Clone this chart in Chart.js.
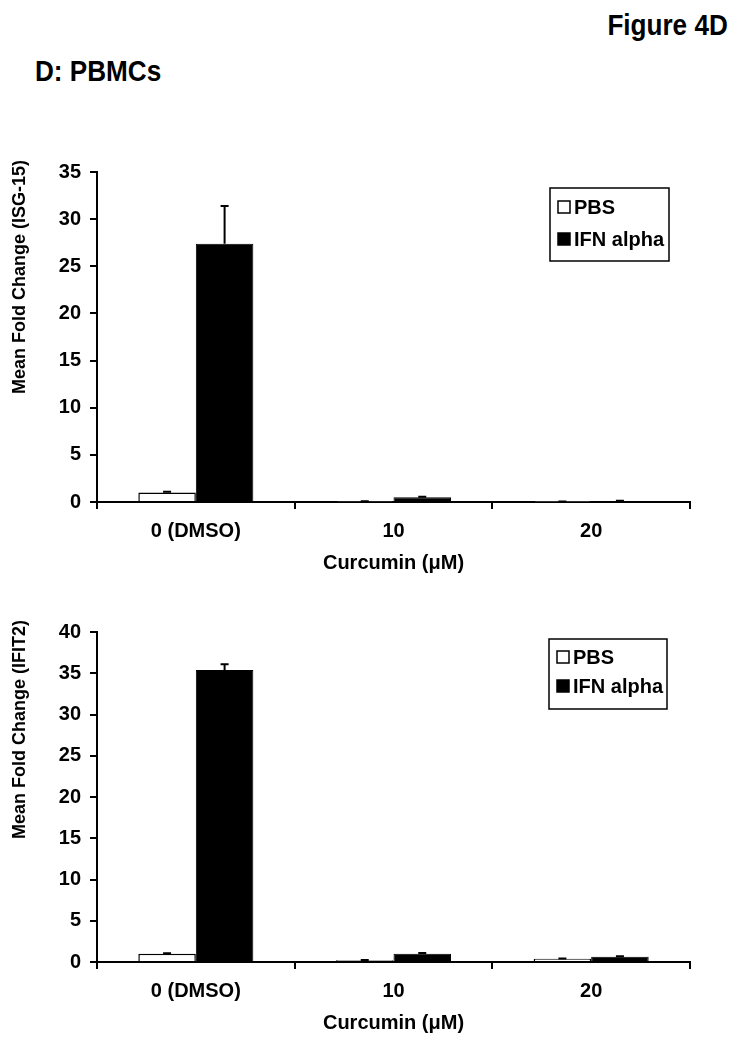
<!DOCTYPE html>
<html>
<head>
<meta charset="utf-8">
<script src="https://cdn.jsdelivr.net/npm/chart.js@4.4.0/dist/chart.umd.min.js"></script>
<style>
  body { margin: 0; background: #fff; }
  #page { position: relative; width: 737px; height: 1050px; font-family: "Liberation Sans", Arial, sans-serif; }
  .head { position: absolute; font-weight: bold; font-size: 29px; line-height: 29px; color: #000; white-space: nowrap; }
  #fig { right: 9px; top: 11px; transform: scaleX(0.9); transform-origin: right top; }
  #panel { left: 35px; top: 57px; transform: scaleX(0.9); transform-origin: left top; }
  canvas { position: absolute; left: 0; }
</style>
</head>
<body>
<div id="page">
  <div class="head" id="fig">Figure 4D</div>
  <div class="head" id="panel">D: PBMCs</div>
  <canvas id="isgChart" width="737" height="480" style="top:100px"></canvas>
  <canvas id="ifitChart" width="737" height="480" style="top:560px"></canvas>
</div>
<script>
// Categories and series
const categories = ["0 (DMSO)", "10", "20"];
const seriesNames = ["PBS", "IFN alpha"];
const xTitle = "Curcumin (μM)";

// ISG-15 panel
const isgPbs = [1.0, 0.05, 0.03];
const isgPbsErr = [0.1, 0.02, 0.01];
const isgIfn = [27.4, 0.5, 0.1];
const isgIfnErr = [4.0, 0.06, 0.03];
const isgMax = 35;

// IFIT2 panel
const ifitPbs = [1.0, 0.2, 0.4];
const ifitPbsErr = [0.05, 0.03, 0.03];
const ifitIfn = [35.4, 1.0, 0.65];
const ifitIfnErr = [0.7, 0.1, 0.05];
const ifitMax = 40;

const tickStep = 5;
const FONT = "'Liberation Sans', Arial, sans-serif";

Chart.defaults.font.family = FONT;
Chart.defaults.font.size = 20;
Chart.defaults.font.weight = "bold";
Chart.defaults.color = "#000";

// error bars on top of each bar
const errorBars = {
  id: "errorBars",
  afterDatasetsDraw(chart) {
    const ctx = chart.ctx;
    const yScale = chart.scales.y;
    ctx.save();
    ctx.strokeStyle = "#000";
    ctx.lineWidth = 2;
    chart.data.datasets.forEach((ds, i) => {
      const meta = chart.getDatasetMeta(i);
      meta.data.forEach((bar, j) => {
        const top = yScale.getPixelForValue(ds.data[j] + ds.errors[j]);
        ctx.beginPath();
        ctx.moveTo(bar.x, bar.y);
        ctx.lineTo(bar.x, top);
        ctx.moveTo(bar.x - 4, top);
        ctx.lineTo(bar.x + 4, top);
        ctx.stroke();
      });
    });
    ctx.restore();
  }
};

// legend with a frame, inside the plot
const boxLegend = {
  id: "boxLegend",
  afterDraw(chart, args, opts) {
    const ctx = chart.ctx;
    const x = opts.left;
    const y = chart.chartArea.top + opts.top;
    ctx.save();
    ctx.lineWidth = 1.5;
    ctx.strokeStyle = "#000";
    ctx.strokeRect(x, y, opts.width, opts.height);
    ctx.font = "bold 20px " + FONT;
    ctx.textBaseline = "middle";
    chart.data.datasets.forEach((ds, i) => {
      const cy = y + opts.rows[i];
      ctx.fillStyle = ds.backgroundColor;
      ctx.fillRect(x + 8, cy - 6, 12, 12);
      ctx.strokeRect(x + 8, cy - 6, 12, 12);
      ctx.fillStyle = "#000";
      ctx.fillText(ds.label, x + 24, cy + 1);
    });
    ctx.restore();
  }
};

// rotated y axis title
const yTitle = {
  id: "yTitle",
  afterDraw(chart, args, opts) {
    const ctx = chart.ctx;
    ctx.save();
    ctx.translate(opts.x, chart.chartArea.top + opts.offset);
    ctx.rotate(-Math.PI / 2);
    ctx.font = "bold 18px " + FONT;
    ctx.fillStyle = "#000";
    ctx.textAlign = "right";
    ctx.textBaseline = "middle";
    ctx.fillText(opts.text, 0, 0);
    ctx.restore();
  }
};

function makeChart(id, pbs, pbsErr, ifn, ifnErr, yMax, yLabel, legendOpts) {
  const ctx = document.getElementById(id).getContext("2d");
  return new Chart(ctx, {
    type: "bar",
    data: {
      labels: categories,
      datasets: [
        {
          label: seriesNames[0],
          data: pbs,
          errors: pbsErr,
          backgroundColor: "#fff",
          borderColor: "#000",
          borderWidth: 1.5
        },
        {
          label: seriesNames[1],
          data: ifn,
          errors: ifnErr,
          backgroundColor: "#000",
          borderColor: "#000",
          borderWidth: 1
        }
      ]
    },
    options: {
      responsive: false,
      animation: false,
      layout: { padding: { top: 72, right: 47, left: 0, bottom: 0 } },
      datasets: { bar: { categoryPercentage: 0.582, barPercentage: 1.0 } },
      plugins: {
        legend: { display: false },
        tooltip: { enabled: false },
        boxLegend: legendOpts,
        yTitle: { text: yLabel, x: 20, offset: -12 }
      },
      scales: {
        x: {
          grid: { offset: true, drawOnChartArea: false, color: "#000", lineWidth: 2, tickLength: 7 },
          border: { color: "#000", width: 2 },
          ticks: { color: "#000", padding: 10, maxRotation: 0 },
          title: { display: true, text: xTitle, color: "#000", padding: { top: 0, bottom: 5 } },
          afterFit(scale) { scale.height = 78; }
        },
        y: {
          min: 0,
          max: yMax,
          ticks: { stepSize: tickStep, color: "#000", padding: 9 },
          grid: { drawOnChartArea: false, color: "#000", lineWidth: 2, tickLength: 7 },
          border: { color: "#000", width: 2 },
          afterFit(scale) { scale.width = 97; }
        }
      }
    },
    plugins: [errorBars, boxLegend, yTitle]
  });
}

makeChart("isgChart", isgPbs, isgPbsErr, isgIfn, isgIfnErr, isgMax,
  "Mean Fold Change (ISG-15)",
  { left: 550, top: 16, width: 119, height: 73, rows: [19, 51] });

makeChart("ifitChart", ifitPbs, ifitPbsErr, ifitIfn, ifitIfnErr, ifitMax,
  "Mean Fold Change (IFIT2)",
  { left: 549, top: 7, width: 118, height: 70, rows: [18, 47] });
</script>
</body>
</html>
